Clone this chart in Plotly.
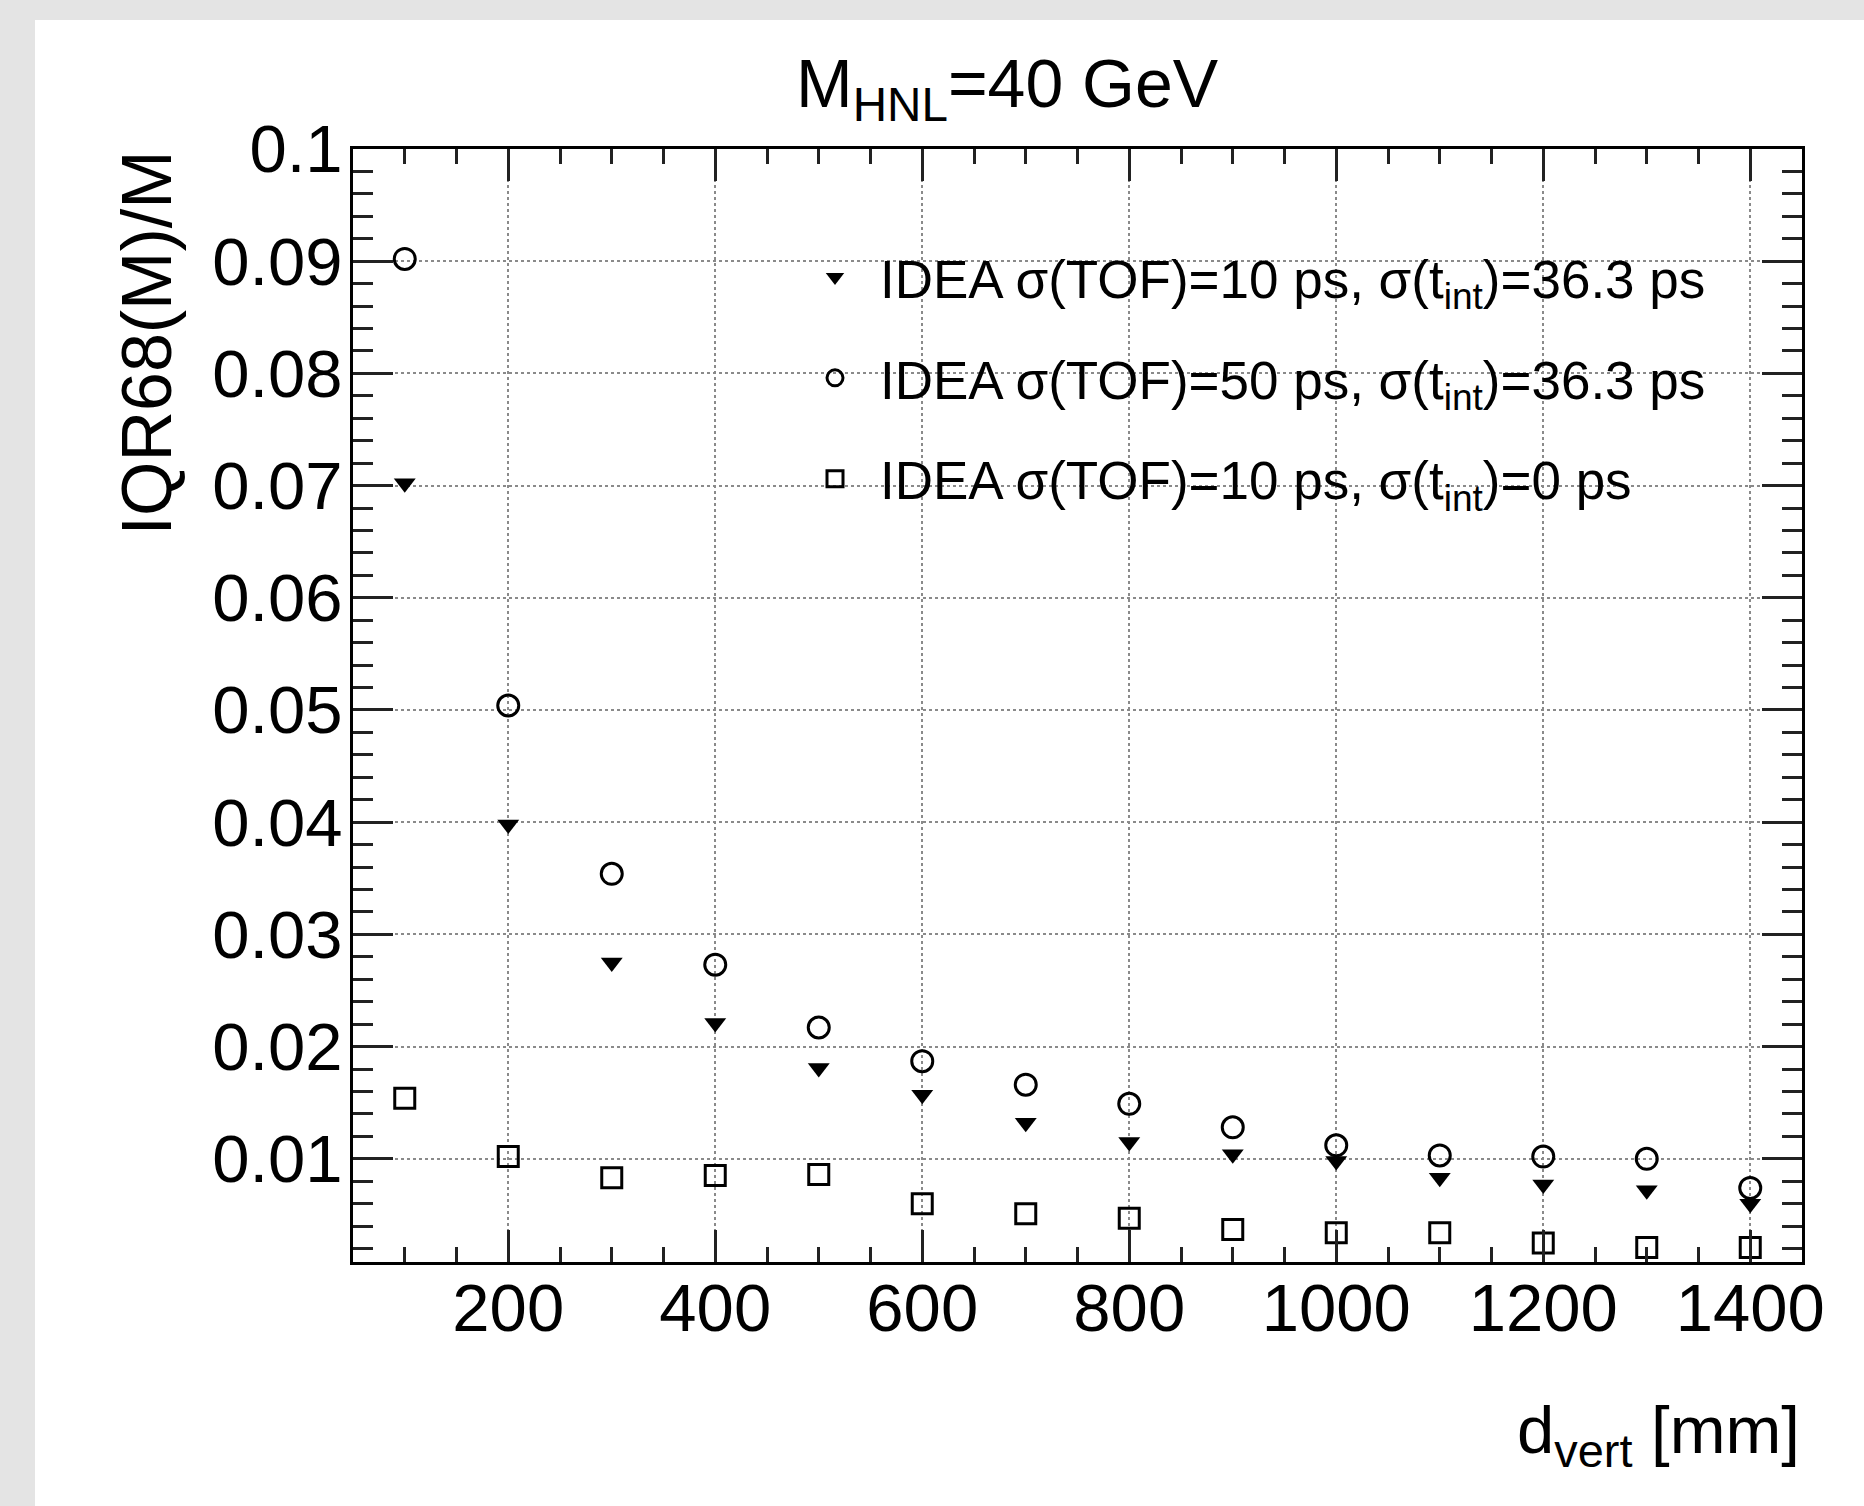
import plotly.graph_objects as go

# ---- data ----
d_vert = [100, 200, 300, 400, 500, 600, 700, 800, 900, 1000, 1100, 1200, 1300, 1400]
iqr_tof10_tint36 = [0.0702, 0.0398, 0.0275, 0.0221, 0.0181, 0.0157, 0.0132, 0.0115,
                    0.0104, 0.0098, 0.0083, 0.0077, 0.0072, 0.0060]
iqr_tof50_tint36 = [0.0902, 0.0504, 0.0354, 0.0273, 0.0217, 0.0187, 0.0166, 0.0149,
                    0.0128, 0.0112, 0.0103, 0.0102, 0.0100, 0.0074]
iqr_tof10_tint0 = [0.0154, 0.0102, 0.0083, 0.0085, 0.0086, 0.0060, 0.0051, 0.0047,
                   0.0037, 0.0034, 0.0034, 0.0025, 0.0021, 0.0021]

series_names = [
    "IDEA σ(TOF)=10 ps, σ(t<sub>int</sub>)=36.3 ps",
    "IDEA σ(TOF)=50 ps, σ(t<sub>int</sub>)=36.3 ps",
    "IDEA σ(TOF)=10 ps, σ(t<sub>int</sub>)=0 ps",
]
y_tickvals = [0.01, 0.02, 0.03, 0.04, 0.05, 0.06, 0.07, 0.08, 0.09, 0.1]
y_ticktext = ["0.01", "0.02", "0.03", "0.04", "0.05", "0.06", "0.07", "0.08", "0.09", "0.1"]
x_tickvals = [200, 400, 600, 800, 1000, 1200, 1400]
x_ticktext = ["200", "400", "600", "800", "1000", "1200", "1400"]

FONT = "Liberation Sans, Arial, sans-serif"

fig = go.Figure()
fig.add_trace(go.Scatter(
    x=d_vert, y=iqr_tof10_tint36, mode="markers", name=series_names[0], legendgroup="a",
    marker=dict(symbol="triangle-down", size=19, color="black", line=dict(width=0)),
))
fig.add_trace(go.Scatter(
    x=d_vert, y=iqr_tof50_tint36, mode="markers", name=series_names[1], legendgroup="b",
    marker=dict(symbol="circle-open", size=21, color="black", line=dict(width=3, color="black")),
))
fig.add_trace(go.Scatter(
    x=d_vert, y=iqr_tof10_tint0, mode="markers", name=series_names[2], legendgroup="c",
    marker=dict(symbol="square-open", size=20, color="black", line=dict(width=3, color="black")),
))

L, R, T, B = 353, 62, 149, 244
W, H = 1864, 1506
pw, ph = W - L - R, H - T - B

def px(xp):
    return (xp - L) / pw

def py(yp):
    return (H - B - yp) / ph

axis_common = dict(
    showline=True, linecolor="black", linewidth=3, mirror="allticks",
    ticks="inside", tickcolor="#222", tickwidth=3,
    showgrid=True, gridcolor="#8a8a8a", gridwidth=2, griddash="dot",
    zeroline=False,
    tickfont=dict(family=FONT, size=67, color="black"),
)

fig.update_xaxes(
    range=[50, 1450], tickmode="array", tickvals=x_tickvals, ticktext=x_ticktext,
    ticklen=32, ticklabelstandoff=-14,
    minor=dict(dtick=50, tick0=0, ticklen=15, tickwidth=3, tickcolor="#222",
               ticks="inside", showgrid=False),
    **axis_common,
)
fig.update_yaxes(
    range=[0.0008, 0.1], tickmode="array", tickvals=y_tickvals, ticktext=y_ticktext,
    ticklen=40, ticklabelstandoff=-6,
    minor=dict(dtick=0.002, tick0=0, ticklen=20, tickwidth=3, tickcolor="#222",
               ticks="inside", showgrid=False),
    **axis_common,
)

annotations = [
    dict(text="M<sub>HNL</sub>=40 GeV", x=px(794), y=py(43), xref="paper", yref="paper",
         xanchor="left", yanchor="top", showarrow=False,
         font=dict(family=FONT, size=68, color="black")),
    dict(text="IQR68(M)/M", x=px(146), y=1.0, xref="paper", yref="paper",
         xanchor="center", yanchor="top", textangle=-90, showarrow=False,
         font=dict(family=FONT, size=70, color="black")),
    dict(text="d<sub>vert</sub> [mm]", x=1.0, y=py(1390), xref="paper", yref="paper",
         xanchor="right", yanchor="top", showarrow=False,
         font=dict(family=FONT, size=67, color="black")),
]

fig.update_layout(
    width=W, height=H,
    margin=dict(l=L, r=R, t=T, b=B, pad=0),
    paper_bgcolor="#e4e4e4",
    plot_bgcolor="white",
    showlegend=True,
    legend=dict(
        x=px(790), y=py(236), xanchor="left", yanchor="top",
        bgcolor="rgba(0,0,0,0)", borderwidth=0,
        font=dict(family=FONT, size=53, color="black"),
        itemwidth=80, tracegroupgap=29,
    ),
    annotations=annotations,
    shapes=[dict(type="rect", xref="paper", yref="paper",
                 x0=px(35), x1=px(W + 10), y0=py(H + 10), y1=py(20),
                 fillcolor="white", line=dict(width=0), layer="below")],
)

fig.write_html("out.html")
